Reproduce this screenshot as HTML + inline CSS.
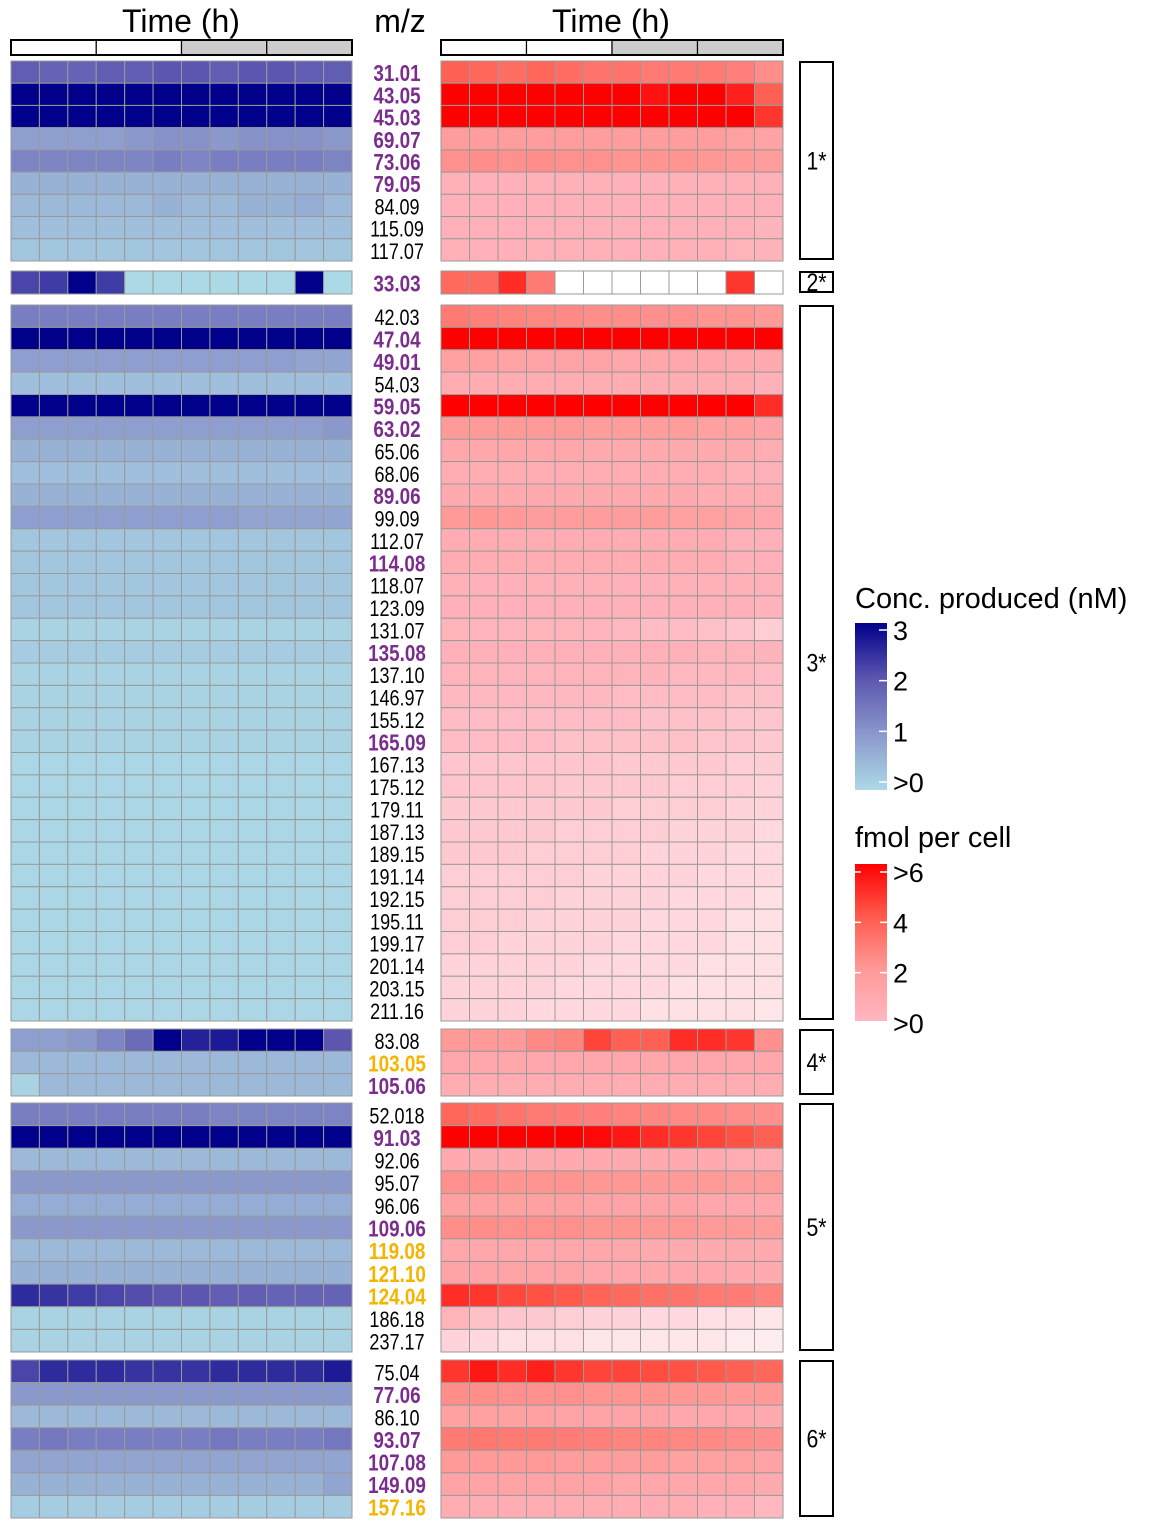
<!DOCTYPE html>
<html><head><meta charset="utf-8">
<style>
body{margin:0;background:#fff;}
svg text{font-family:"Liberation Sans",Arial,sans-serif;}
</style></head>
<body>
<svg id="chart" width="1170" height="1530" viewBox="0 0 1170 1530" xmlns="http://www.w3.org/2000/svg">
</svg>
<script>
// ---- data ----
const groupNames = ["1*","2*","3*","4*","5*","6*"];
const labels = [
 ["31.01","43.05","45.03","69.07","73.06","79.05","84.09","115.09","117.07"],
 ["33.03"],
 ["42.03","47.04","49.01","54.03","59.05","63.02","65.06","68.06","89.06","99.09","112.07","114.08","118.07","123.09","131.07","135.08","137.10","146.97","155.12","165.09","167.13","175.12","179.11","187.13","189.15","191.14","192.15","195.11","199.17","201.14","203.15","211.16"],
 ["83.08","103.05","105.06"],
 ["52.018","91.03","92.06","95.07","96.06","109.06","119.08","121.10","124.04","186.18","237.17"],
 ["75.04","77.06","86.10","93.07","107.08","149.09","157.16"]
];
// p = purple bold, k = black, o = orange bold
const labelKinds = [
 ["p","p","p","p","p","p","k","k","k"],
 ["p"],
 ["k","p","p","k","p","p","k","k","p","k","k","p","k","k","k","p","k","k","k","p","k","k","k","k","k","k","k","k","k","k","k","k"],
 ["k","o","p"],
 ["k","p","k","k","k","p","o","o","o","k","k"],
 ["k","p","k","p","p","p","o"]
];
const blueValues = [
 [[1.9,1.8,1.8,1.9,1.9,2.0,2.0,1.9,2.0,2.0,1.9,1.9],
  [3,3,3,3,3,3,3,3,3,3,3,3],
  [3,3,3,3,3,3,3,3,3,3,3,3],
  [0.9,0.9,0.9,0.9,1.0,1.1,1.1,1.0,1.1,1.1,1.1,1.0],
  [1.3,1.3,1.3,1.3,1.3,1.4,1.3,1.4,1.4,1.4,1.4,1.3],
  [0.6,0.6,0.6,0.6,0.6,0.6,0.6,0.6,0.6,0.6,0.6,0.6],
  [0.5,0.5,0.5,0.5,0.5,0.6,0.5,0.5,0.6,0.6,0.7,0.5],
  [0.4,0.4,0.4,0.4,0.4,0.4,0.4,0.4,0.4,0.4,0.4,0.4],
  [0.3,0.3,0.3,0.3,0.3,0.3,0.3,0.3,0.3,0.3,0.3,0.3]],
 [[2.2,2.3,3,2.3,0,0,0,0,0,0,3,0]],
 [[1.4,1.4,1.4,1.4,1.4,1.4,1.4,1.4,1.4,1.4,1.4,1.4],
  [3,3,3,3,3,3,3,3,3,3,3,3],
  [0.9,0.9,0.9,0.9,0.9,0.9,0.9,0.9,0.9,0.9,0.8,0.8],
  [0.4,0.4,0.4,0.4,0.4,0.4,0.4,0.4,0.4,0.4,0.4,0.4],
  [3,3,3,3,3,3,3,3,3,3,3,3],
  [0.9,0.9,0.9,0.9,0.9,0.9,0.9,0.9,0.9,0.9,0.9,1.0],
  [0.6,0.6,0.6,0.6,0.6,0.6,0.6,0.6,0.6,0.6,0.6,0.6],
  [0.4,0.4,0.4,0.4,0.4,0.4,0.4,0.4,0.4,0.4,0.4,0.4],
  [0.6,0.6,0.6,0.6,0.6,0.6,0.6,0.6,0.6,0.6,0.6,0.6],
  [0.9,0.9,0.9,0.9,0.9,0.9,0.9,0.9,0.8,0.8,0.8,0.8],
  [0.3,0.3,0.3,0.3,0.3,0.3,0.3,0.3,0.3,0.3,0.3,0.3],
  [0.3,0.3,0.3,0.3,0.3,0.3,0.3,0.3,0.3,0.3,0.3,0.3],
  [0.3,0.3,0.3,0.3,0.3,0.3,0.3,0.3,0.3,0.3,0.3,0.3],
  [0.3,0.3,0.3,0.3,0.3,0.3,0.3,0.3,0.3,0.3,0.3,0.3],
  [0.1,0.1,0.1,0.1,0.1,0.1,0.1,0.1,0.1,0.1,0.1,0.1],
  [0.2,0.2,0.2,0.2,0.2,0.2,0.2,0.2,0.2,0.2,0.2,0.2],
  [0.1,0.1,0.1,0.1,0.1,0.1,0.1,0.1,0.1,0.1,0.1,0.1],
  [0.1,0.1,0.1,0.1,0.1,0.1,0.1,0.1,0.1,0.1,0.1,0.1],
  [0.1,0.1,0.1,0.1,0.1,0.1,0.1,0.1,0.1,0.1,0.1,0.1],
  [0.1,0.1,0.1,0.1,0.1,0.1,0.1,0.1,0.1,0.1,0.1,0.1],
  [0.05,0.05,0.05,0.05,0.05,0.05,0.05,0.05,0.05,0.05,0.05,0.05],
  [0.05,0.05,0.05,0.05,0.05,0.05,0.05,0.05,0.05,0.05,0.05,0.05],
  [0.05,0.05,0.05,0.05,0.05,0.05,0.05,0.05,0.05,0.05,0.05,0.05],
  [0.05,0.05,0.05,0.05,0.05,0.05,0.05,0.05,0.05,0.05,0.05,0.05],
  [0.05,0.05,0.05,0.05,0.05,0.05,0.05,0.05,0.05,0.05,0.05,0.05],
  [0.05,0.05,0.05,0.05,0.05,0.05,0.05,0.05,0.05,0.05,0.05,0.05],
  [0.05,0.05,0.05,0.05,0.05,0.05,0.05,0.05,0.05,0.05,0.05,0.05],
  [0.05,0.05,0.05,0.05,0.05,0.05,0.05,0.05,0.05,0.05,0.05,0.05],
  [0.05,0.05,0.05,0.05,0.05,0.05,0.05,0.05,0.05,0.05,0.05,0.05],
  [0.05,0.05,0.05,0.05,0.05,0.05,0.05,0.05,0.05,0.05,0.05,0.05],
  [0.05,0.05,0.05,0.05,0.05,0.05,0.05,0.05,0.05,0.05,0.05,0.05],
  [0.05,0.05,0.05,0.05,0.05,0.05,0.05,0.05,0.05,0.05,0.05,0.05]],
 [[0.9,0.9,1.0,1.3,1.7,3,2.6,2.7,3,3,3,2.0],
  [0.5,0.5,0.5,0.5,0.5,0.5,0.5,0.5,0.5,0.5,0.5,0.5],
  [0.1,0.5,0.5,0.5,0.5,0.5,0.5,0.5,0.5,0.5,0.5,0.5]],
 [[1.4,1.4,1.4,1.4,1.4,1.4,1.4,1.3,1.3,1.3,1.3,1.3],
  [3,3,3,3,3,3,3,3,3,3,3,3],
  [0.5,0.5,0.5,0.5,0.5,0.5,0.5,0.5,0.5,0.5,0.5,0.5],
  [1.0,1.0,1.0,1.0,1.0,1.0,1.0,1.0,1.0,1.0,1.0,1.0],
  [0.7,0.7,0.7,0.7,0.7,0.7,0.7,0.7,0.7,0.7,0.7,0.7],
  [1.0,1.0,1.0,1.0,1.0,1.0,1.0,1.0,1.0,1.0,1.0,1.0],
  [0.5,0.5,0.5,0.5,0.5,0.5,0.5,0.5,0.5,0.5,0.5,0.5],
  [0.6,0.6,0.6,0.6,0.6,0.6,0.6,0.6,0.6,0.6,0.6,0.6],
  [2.5,2.4,2.3,2.2,2.1,2.0,2.0,1.9,1.9,1.8,1.8,1.8],
  [0.1,0.1,0.1,0.1,0.1,0.1,0.1,0.1,0.1,0.1,0.1,0.1],
  [0.1,0.1,0.1,0.1,0.1,0.1,0.1,0.1,0.1,0.1,0.1,0.1]],
 [[2.2,2.5,2.5,2.5,2.4,2.4,2.4,2.5,2.5,2.5,2.5,2.7],
  [1.0,1.0,1.0,1.0,1.0,1.0,1.0,1.0,1.0,1.0,1.0,1.0],
  [0.5,0.5,0.5,0.5,0.5,0.5,0.5,0.5,0.5,0.5,0.5,0.5],
  [1.4,1.5,1.4,1.4,1.4,1.4,1.4,1.5,1.4,1.4,1.4,1.5],
  [0.8,0.8,0.8,0.8,0.8,0.8,0.8,0.8,0.8,0.8,0.8,0.8],
  [0.6,0.6,0.6,0.6,0.6,0.6,0.6,0.6,0.6,0.6,0.6,0.8],
  [0.2,0.2,0.2,0.2,0.2,0.2,0.2,0.2,0.2,0.2,0.2,0.2]]
];
const redValues = [
 [[3.8,3.6,3.4,3.6,3.4,3.2,3.2,3.0,3.0,3.0,2.8,2.4],
  [6,6,6,6,6,6,6,5.6,6,6,5.3,3.8],
  [6,6,6,6,6,6,6,6,6,6,6,4.8],
  [1.9,1.9,1.9,1.9,1.9,1.9,1.9,1.9,1.9,1.9,1.8,1.7],
  [2.3,2.4,2.3,2.4,2.3,2.3,2.2,2.2,2.2,2.1,2.0,1.9],
  [1.3,1.3,1.3,1.3,1.3,1.3,1.3,1.3,1.3,1.3,1.3,1.3],
  [1.3,1.3,1.3,1.3,1.3,1.3,1.3,1.3,1.3,1.3,1.3,1.3],
  [1.3,1.3,1.3,1.3,1.3,1.3,1.3,1.3,1.3,1.3,1.3,1.2],
  [1.3,1.3,1.3,1.3,1.3,1.3,1.3,1.3,1.3,1.3,1.2,1.2]],
 [[3.5,3.5,5,3,null,null,null,null,null,null,4.8,null]],
 [[3.0,2.8,2.7,2.6,2.5,2.4,2.4,2.3,2.3,2.2,2.2,2.0],
  [6,6,6,6,6,6,6,6,6,6,6,6],
  [1.8,1.8,1.7,1.7,1.7,1.7,1.6,1.6,1.6,1.6,1.5,1.5],
  [1.4,1.4,1.4,1.4,1.4,1.4,1.4,1.4,1.4,1.4,1.4,1.3],
  [6,6,6,6,6,6,6,6,6,6,6,5],
  [2.0,2.0,2.0,2.0,2.0,1.9,1.9,1.9,1.9,1.8,1.8,1.7],
  [1.6,1.6,1.6,1.6,1.6,1.5,1.5,1.5,1.5,1.5,1.5,1.4],
  [1.4,1.4,1.4,1.4,1.4,1.4,1.4,1.4,1.4,1.4,1.3,1.3],
  [1.5,1.5,1.5,1.5,1.5,1.5,1.5,1.5,1.5,1.4,1.4,1.4],
  [2.0,2.1,2.0,1.9,1.9,1.9,1.9,1.9,1.8,1.8,1.7,1.6],
  [1.4,1.4,1.4,1.4,1.4,1.4,1.4,1.4,1.4,1.4,1.3,1.3],
  [1.4,1.4,1.4,1.4,1.4,1.4,1.4,1.4,1.4,1.4,1.3,1.3],
  [1.3,1.3,1.3,1.3,1.3,1.3,1.3,1.3,1.3,1.3,1.3,1.3],
  [1.3,1.3,1.3,1.3,1.3,1.3,1.3,1.3,1.3,1.3,1.3,1.2],
  [1.2,1.2,1.2,1.2,1.2,1.2,1.1,1.0,1.0,0.9,0.8,0.6],
  [1.3,1.3,1.3,1.3,1.3,1.3,1.3,1.3,1.3,1.2,1.2,1.2],
  [1.2,1.2,1.2,1.2,1.2,1.2,1.2,1.2,1.1,1.1,1.1,1.0],
  [1.1,1.1,1.1,1.1,1.1,1.1,1.0,1.0,1.0,1.0,0.9,0.9],
  [1.0,1.0,1.0,1.0,1.0,1.0,1.0,0.9,0.9,0.9,0.8,0.8],
  [1.0,1.0,1.0,1.0,0.9,0.9,0.9,0.9,0.9,0.8,0.8,0.7],
  [0.8,0.8,0.8,0.8,0.8,0.8,0.7,0.7,0.7,0.7,0.6,0.6],
  [0.8,0.8,0.8,0.8,0.7,0.7,0.7,0.7,0.6,0.6,0.6,0.5],
  [0.7,0.7,0.7,0.7,0.7,0.7,0.6,0.6,0.6,0.6,0.5,0.5],
  [0.7,0.7,0.7,0.7,0.6,0.6,0.6,0.6,0.5,0.5,0.5,0.4],
  [0.7,0.7,0.7,0.6,0.6,0.6,0.6,0.5,0.5,0.5,0.4,0.4],
  [0.6,0.6,0.6,0.6,0.6,0.5,0.5,0.5,0.5,0.4,0.4,0.4],
  [0.6,0.6,0.6,0.6,0.5,0.5,0.5,0.5,0.4,0.4,0.4,0.3],
  [0.6,0.6,0.6,0.5,0.5,0.5,0.5,0.4,0.4,0.4,0.3,0.3],
  [0.6,0.6,0.5,0.5,0.5,0.5,0.4,0.4,0.4,0.4,0.3,0.3],
  [0.5,0.5,0.5,0.5,0.5,0.4,0.4,0.4,0.4,0.3,0.3,0.3],
  [0.5,0.5,0.5,0.5,0.4,0.4,0.4,0.4,0.3,0.3,0.3,0.3],
  [0.5,0.5,0.5,0.4,0.4,0.4,0.4,0.3,0.3,0.3,0.3,0.2]],
 [[2.0,2.0,2.0,2.5,2.7,4.5,3.8,3.8,5,5,4.8,2.3],
  [1.6,1.6,1.6,1.6,1.6,1.6,1.6,1.6,1.6,1.6,1.6,1.6],
  [1.4,1.4,1.4,1.4,1.4,1.4,1.4,1.4,1.4,1.4,1.4,1.4]],
 [[3.6,3.4,3.2,3.0,2.9,2.8,2.7,2.6,2.5,2.5,2.4,2.3],
  [6,6,6,6,6,5.8,5.5,5,4.8,4.5,4.2,3.8],
  [1.5,1.5,1.5,1.5,1.5,1.5,1.5,1.5,1.5,1.5,1.4,1.4],
  [2.3,2.3,2.2,2.2,2.2,2.1,2.1,2.0,2.0,2.0,1.9,1.9],
  [1.8,1.8,1.8,1.8,1.8,1.7,1.7,1.7,1.7,1.6,1.6,1.6],
  [2.4,2.4,2.3,2.3,2.3,2.2,2.2,2.1,2.1,2.0,2.0,1.9],
  [1.6,1.6,1.6,1.6,1.6,1.6,1.6,1.5,1.5,1.5,1.5,1.5],
  [1.7,1.7,1.7,1.7,1.7,1.6,1.6,1.6,1.6,1.6,1.5,1.5],
  [5.0,4.8,4.4,4.2,4.0,3.7,3.5,3.3,3.2,3.0,2.9,2.7],
  [1.2,0.9,0.8,0.7,0.6,0.5,0.5,0.4,0.4,0.3,0.3,0.2],
  [0.5,0.4,0.3,0.3,0.3,0.2,0.2,0.2,0.2,0.2,0.1,0.1]],
 [[4.8,5.5,5.0,5.3,4.8,4.5,4.5,4.3,4.2,4.0,3.8,3.6],
  [2.4,2.4,2.3,2.3,2.3,2.2,2.2,2.2,2.1,2.1,2.0,2.0],
  [1.8,1.8,1.8,1.8,1.7,1.7,1.7,1.7,1.6,1.6,1.6,1.5],
  [3.0,3.1,3.0,3.0,2.9,2.8,2.7,2.7,2.6,2.5,2.4,2.3],
  [2.0,2.0,2.0,2.0,1.9,1.9,1.9,1.9,1.8,1.8,1.8,1.7],
  [1.7,1.7,1.7,1.7,1.7,1.7,1.6,1.6,1.6,1.6,1.6,1.5],
  [1.4,1.4,1.4,1.4,1.4,1.4,1.4,1.4,1.4,1.3,1.3,1.1]]
];
const blueTicks = [3,2,1,0];
const blueTickLabels = ["3","2","1",">0"];
const redTicks = [6,4,2,0];
const redTickLabels = [">6","4","2",">0"];

// ---- layout ----
const NS = "http://www.w3.org/2000/svg";
const svg = document.getElementById("chart");
const groupTop = [61,271,305,1029,1103,1360];
const groupBottom = [261,294,1021,1096,1352,1518];
const leftX0 = 11, leftX1 = 352, rightX0 = 441, rightX1 = 783, nCols = 12;
function el(tag, attrs, parent){const e=document.createElementNS(NS,tag);for(const k in attrs)e.setAttribute(k,attrs[k]);(parent||svg).appendChild(e);return e;}
function lerp(a,b,t){return a+(b-a)*t;}
function hex(c){return [parseInt(c.slice(1,3),16),parseInt(c.slice(3,5),16),parseInt(c.slice(5,7),16)];}
function scale(stops,v){
  if(v<=stops[0][0]) return stops[0][1];
  for(let i=1;i<stops.length;i++){
    if(v<=stops[i][0]){const t=(v-stops[i-1][0])/(stops[i][0]-stops[i-1][0]);const a=hex(stops[i-1][1]),b=hex(stops[i][1]);
      return "rgb("+Math.round(lerp(a[0],b[0],t))+","+Math.round(lerp(a[1],b[1],t))+","+Math.round(lerp(a[2],b[2],t))+")";}
  }
  return stops[stops.length-1][1];
}
const blueStops=[[0,"#acd9e6"],[1,"#8b98cc"],[2,"#5c56b0"],[3,"#00008a"]];
const redStops=[[0,"#fff2f4"],[0.6,"#ffcdd4"],[1.3,"#ffb0b8"],[2,"#ff9a98"],[4,"#ff5a4c"],[6,"#ff0000"]];
function blueColor(v){return scale(blueStops,v);}
function redColor(v){return v===null?"#ffffff":scale(redStops,v);}
function colX(x0,x1,j){return x0+(x1-x0)*j/nCols;}
function rowY(g,i){return groupTop[g]+(groupBottom[g]-groupTop[g])*i/labels[g].length;}

// titles
let t;
t=el("text",{x:181,y:32,"font-size":32,"text-anchor":"middle",fill:"#000"});t.textContent="Time (h)";


t=el("text",{x:611,y:32,"font-size":32,"text-anchor":"middle",fill:"#000"});t.textContent="Time (h)";


t=el("text",{x:400,y:32,"font-size":32,"text-anchor":"middle",fill:"#000"});t.textContent="m/z";



// time annotation bars
[[leftX0,leftX1,"left"],[rightX0,rightX1,"right"]].forEach(([x0,x1,side])=>{
  const w=(x1-x0)/4;
  for(let k=0;k<4;k++){
    const r=el("rect",{x:x0+k*w,y:40,width:w,height:15,fill:k<2?"#ffffff":"#cccccc",stroke:"#000","stroke-width":1.2});
    
    
  }
  const b=el("rect",{x:x0,y:40,width:x1-x0,height:15,fill:"none",stroke:"#000","stroke-width":2});
  
  
});

// heatmaps
for(let g=0;g<labels.length;g++){
  const n=labels[g].length;
  for(let i=0;i<n;i++){
    const y0=rowY(g,i), y1=rowY(g,i+1);
    for(let j=0;j<nCols;j++){
      let x0=colX(leftX0,leftX1,j),x1=colX(leftX0,leftX1,j+1);
      const c=el("rect",{x:x0,y:y0,width:x1-x0,height:y1-y0,fill:blueColor(blueValues[g][i][j]),stroke:"#9a9a9a","stroke-width":1});
      
      
      x0=colX(rightX0,rightX1,j);x1=colX(rightX0,rightX1,j+1);
      const d=el("rect",{x:x0,y:y0,width:x1-x0,height:y1-y0,fill:redColor(redValues[g][i][j]),stroke:"#9a9a9a","stroke-width":1});
      
      
    }
    const kind=labelKinds[g][i];
    const lab=el("text",{x:0,y:0,transform:"translate(397,"+((y0+y1)/2+9)+") scale(0.82,1)","font-size":kind==="k"?22:23,"font-weight":kind==="k"?"normal":"bold","text-anchor":"middle",fill:kind==="p"?"#7b2d8e":(kind==="o"?"#f5b400":"#000")});
    lab.textContent=labels[g][i];
    
    
  }
  const gt=groupTop[g]+1, gb=groupBottom[g]-2;
  const box=el("rect",{x:800,y:gt,width:33,height:gb-gt,fill:"#fff",stroke:"#000","stroke-width":2});
  
  
  const gl=el("text",{x:0,y:0,transform:"translate(816.5,"+((gt+gb)/2+9)+") scale(0.85,1)","font-size":25,"text-anchor":"middle",fill:"#000"});
  gl.textContent=groupNames[g];
  
  
}

// legends
const defs=el("defs",{});
const gb1=el("linearGradient",{id:"gBlue",x1:0,y1:1,x2:0,y2:0},defs);
blueStops.forEach(s=>el("stop",{offset:s[0]/3,"stop-color":s[1]},gb1));
const gr1=el("linearGradient",{id:"gRed",x1:0,y1:1,x2:0,y2:0},defs);
[[0,"#ffb6c1"],[0.33,"#ff9a98"],[0.67,"#ff5a4c"],[1,"#ff0000"]].forEach(s=>el("stop",{offset:s[0],"stop-color":s[1]},gr1));

t=el("text",{x:855,y:608,"font-size":29,fill:"#000"});t.textContent="Conc. produced (nM)";


const bb=el("rect",{x:855,y:623,width:32,height:167,fill:"url(#gBlue)"});


const bTop=630,bBot=782;
blueTicks.forEach((v,k)=>{
  const y=bBot-(bBot-bTop)*v/3;
  const tk=el("line",{x1:879,x2:887,y1:y,y2:y,stroke:"#fff","stroke-width":1.5});
  
  
  const tl=el("text",{x:893,y:y+10,"font-size":27,fill:"#000"});tl.textContent=blueTickLabels[k];
  
  
});
t=el("text",{x:855,y:847,"font-size":29,fill:"#000"});t.textContent="fmol per cell";


const rb=el("rect",{x:855,y:864,width:32,height:157,fill:"url(#gRed)"});


const rTop=872,rBot=1023;
redTicks.forEach((v,k)=>{
  const y=rBot-(rBot-rTop)*v/6;
  const a=el("line",{x1:855,x2:861,y1:y,y2:y,stroke:"#fff","stroke-width":1.5});
  
  
  const b=el("line",{x1:880,x2:887,y1:y,y2:y,stroke:"#fff","stroke-width":1.5});
  
  
  const tl=el("text",{x:893,y:y+10,"font-size":27,fill:"#000"});tl.textContent=redTickLabels[k];
  
  
});
</script>
</body></html>
